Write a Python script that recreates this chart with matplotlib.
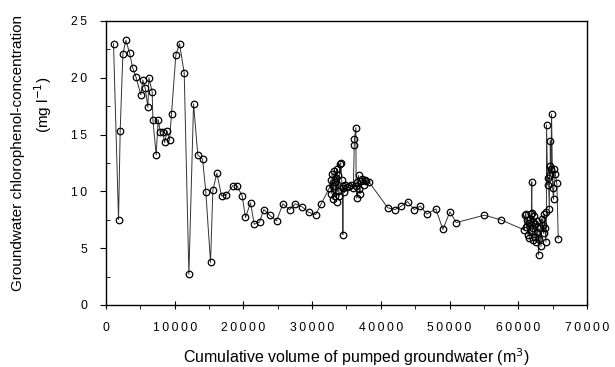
import numpy as np
import matplotlib.pyplot as plt
from matplotlib.ticker import MultipleLocator, FuncFormatter

plt.rcParams['font.family'] = ['Liberation Sans', 'DejaVu Sans']

# Werte (Volumen in m3, Konzentration in mg/l)
vol_start = [1090, 1820, 2060, 2450, 2890, 3420, 3860, 4340, 5070, 5360,
             5700, 6090, 6240, 6720, 6820, 7300, 7590, 7890, 8270, 8520,
             8900, 9240, 9530, 10160, 10700, 11380, 12060, 12740, 13360, 14050,
             14530, 15210, 15550, 16130, 16810, 17500, 18460, 19040, 19820, 20300,
             21030, 21570, 22340, 22970, 23800, 24820, 25740, 26710, 27540, 28500,
             29520, 30500, 31320]
conc_start = [23.0, 7.5, 15.3, 22.1, 23.3, 22.2, 20.9, 20.1, 18.5, 19.8,
              19.1, 17.4, 20.0, 18.75, 16.3, 13.2, 16.3, 15.25, 15.25, 14.3,
              15.3, 14.5, 16.8, 22.0, 23.0, 20.4, 2.7, 17.7, 13.2, 12.85,
              9.9, 3.75, 10.1, 11.6, 9.6, 9.7, 10.5, 10.5, 9.6, 7.7,
              9.0, 7.1, 7.3, 8.4, 7.9, 7.4, 8.9, 8.4, 8.9, 8.65,
              8.15, 7.95, 8.9]

vol_cluster1 = [32500, 32700, 32800, 32900, 33000, 33070, 33200, 33300, 33400, 33500,
                33550, 33600, 33700, 33800, 33900, 34000, 34150, 34300, 34450, 34470,
                34500, 34700, 34850, 35100, 35400, 35700, 36000, 36130, 36150, 36370,
                36400, 36500, 36600, 36750, 36850, 36950, 37100, 37300, 37500, 37700,
                37900, 38300]
conc_cluster1 = [10.3, 11.0, 9.8, 11.5, 10.5, 9.3, 11.8, 10.8, 9.6, 11.2,
                 9.1, 12.0, 10.0, 11.4, 9.6, 12.4, 12.5, 11.0, 10.3, 6.2,
                 10.5, 9.9, 10.6, 10.4, 10.5, 10.6, 10.3, 14.1, 14.6, 15.6,
                 10.5, 9.4, 10.8, 11.4, 10.2, 9.8, 10.9, 11.1, 10.6, 11.0,
                 10.9, 10.8]

vol_mid = [41020, 42090, 42970, 43890, 44860, 45740, 46700, 48010, 49030, 50050,
           50970, 55050, 57450]
conc_mid = [8.55, 8.4, 8.7, 9.1, 8.4, 8.7, 8.0, 8.45, 6.65, 8.2,
            7.25, 7.9, 7.5]

vol_cluster3 = [60900, 61000, 61100, 61200, 61300, 61400, 61500, 61600, 61700, 61800,
                61900, 61970, 62000, 62080, 62100, 62200, 62300, 62400, 62500, 62600,
                62700, 62800, 62960, 63050, 63200, 63300, 63450, 63550, 63690, 63790,
                63900, 64030, 64100, 64120, 64270, 64400, 64520, 64560, 64660, 64660,
                64750, 64850, 65000, 65140, 65240, 65400, 65620, 65820]
conc_cluster3 = [6.6, 7.9, 8.05, 6.9, 7.5, 6.2, 7.2, 5.9, 7.6, 6.5,
                 8.0, 10.85, 8.1, 5.7, 7.3, 6.8, 7.8, 6.0, 7.1, 5.5,
                 6.4, 7.4, 4.4, 5.8, 6.8, 5.15, 7.6, 7.0, 6.3, 8.0,
                 6.8, 5.55, 8.2, 15.85, 10.55, 11.2, 8.45, 12.2, 11.45, 14.45,
                 12.0, 16.8, 10.3, 9.3, 11.95, 11.5, 10.7, 5.85]

vol = np.array(vol_start + vol_cluster1 + vol_mid + vol_cluster3)
conc = np.array(conc_start + conc_cluster1 + conc_mid + conc_cluster3)

fig = plt.figure(figsize=(6.15, 3.67), dpi=100)
ax = fig.add_axes([0.1724, 0.169, 0.782, 0.774])

ax.plot(vol, conc, color='#333333', linewidth=0.7,
        marker='o', markersize=4.7, markerfacecolor='none',
        markeredgecolor='black', markeredgewidth=0.9)

# weit gesperrte Ziffern wie im Original
spaced = FuncFormatter(lambda v, p: '\u2009'.join(f'{v:.0f}'))

ax.set_xlim(0, 70000)
ax.set_ylim(0, 25)
ax.xaxis.set_major_locator(MultipleLocator(10000))
ax.xaxis.set_minor_locator(MultipleLocator(5000))
ax.yaxis.set_major_locator(MultipleLocator(5))
ax.yaxis.set_minor_locator(MultipleLocator(2.5))
ax.xaxis.set_major_formatter(spaced)
ax.yaxis.set_major_formatter(spaced)
ax.tick_params(axis='x', which='major', direction='inout', length=6, labelsize=8.8, pad=9)
ax.tick_params(axis='x', which='minor', direction='out', length=3)
ax.tick_params(axis='y', which='major', direction='out', length=4, labelsize=8.8, pad=9.5)
ax.tick_params(axis='y', which='minor', direction='in', length=3)
for s in ax.spines.values():
    s.set_linewidth(1.0)

fig.text(0.298, 0.011, 'Cumulative volume of pumped groundwater (m$^3$)',
         ha='left', va='baseline', fontsize=11.5)
fig.text(0.03, 0.583, 'Groundwater chlorophenol-concentration',
         rotation=90, ha='center', va='center', fontsize=11)
fig.text(0.07, 0.715, '(mg l$^{-1}$)',
         rotation=90, ha='center', va='center', fontsize=11)

fig.savefig('out.png', dpi=100)
